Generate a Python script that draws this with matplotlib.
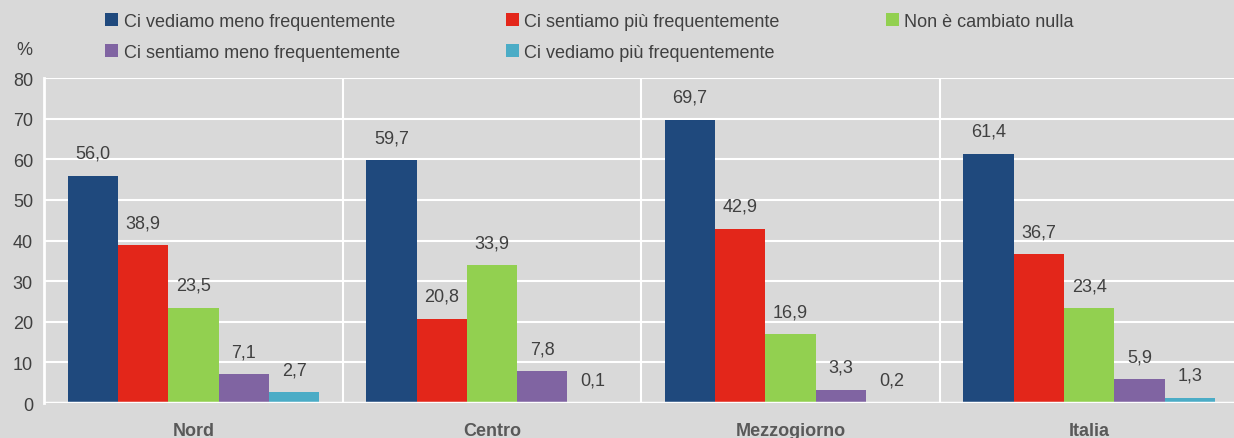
import matplotlib.pyplot as plt
import numpy as np

regions = ["Nord", "Centro", "Mezzogiorno", "Italia"]
series = [
    "Ci vediamo meno frequentemente",
    "Ci sentiamo più frequentemente",
    "Non è cambiato nulla",
    "Ci sentiamo meno frequentemente",
    "Ci vediamo più frequentemente",
]
vediamo_meno = [56.0, 59.7, 69.7, 61.4]
sentiamo_piu = [38.9, 20.8, 42.9, 36.7]
non_cambiato = [23.5, 33.9, 16.9, 23.4]
sentiamo_meno = [7.1, 7.8, 3.3, 5.9]
vediamo_piu = [2.7, 0.1, 0.2, 1.3]
values = [vediamo_meno, sentiamo_piu, non_cambiato, sentiamo_meno, vediamo_piu]
colors = ["#1f497d", "#e3261a", "#92d050", "#8064a2", "#4bacc6"]

bg = "#d9d9d9"
txt = "#404040"
plt.rcParams["font.family"] = ["Liberation Sans", "DejaVu Sans"]

fig = plt.figure(figsize=(12.34, 4.39), dpi=100, facecolor=bg)
ax = fig.add_axes([0.0357, 0.0797, 0.968, 0.7403], facecolor=bg)

x = np.arange(len(regions))
width = 0.1685
handles = []
for i, (name, vals, col) in enumerate(zip(series, values, colors)):
    pos = x + (i - 2) * width
    bars = ax.bar(pos, vals, width, color=col, label=name, zorder=3)
    handles.append(bars)
    for xp, v in zip(pos, vals):
        ax.annotate(f"{v:.1f}".replace(".", ","), (xp, v), xytext=(0, 10),
                    textcoords="offset points", ha="center", va="bottom",
                    fontsize=13, color=txt)

ax.set_xlim(-0.5, len(regions) - 0.5)
ax.set_ylim(0, 80)
ax.set_yticks(range(0, 81, 10))
ax.tick_params(axis="y", length=0, labelsize=13, labelcolor=txt, pad=8)
ax.set_xticks(x)
ax.set_xticklabels(regions, fontweight="bold", fontsize=13, color="#595959")
ax.tick_params(axis="x", length=0, pad=14)
ax.grid(axis="y", color="white", linewidth=1.5, zorder=1)
for b in x[:-1] + 0.5:
    ax.axvline(b, color="white", linewidth=1.5, zorder=1)
for s in ["top", "right", "bottom"]:
    ax.spines[s].set_visible(False)
ax.spines["left"].set_color("white")
ax.spines["left"].set_linewidth(2)
ax.axhline(0, color="white", linewidth=2.5, zorder=4)

fig.text(0.0195, 0.885, "%", fontsize=13, color=txt, ha="center", va="center")

order = [0, 3, 1, 4, 2]
leg = fig.legend([handles[i] for i in order], [series[i] for i in order],
                 ncol=3, loc="upper left", bbox_to_anchor=(0.0723, 1.005),
                 frameon=False, fontsize=13, handlelength=0.7, handleheight=0.7,
                 handletextpad=0.3, columnspacing=5.9, labelspacing=0.77)
for t in leg.get_texts():
    t.set_color(txt)

fig.savefig("out.png", dpi=100, facecolor=bg)
